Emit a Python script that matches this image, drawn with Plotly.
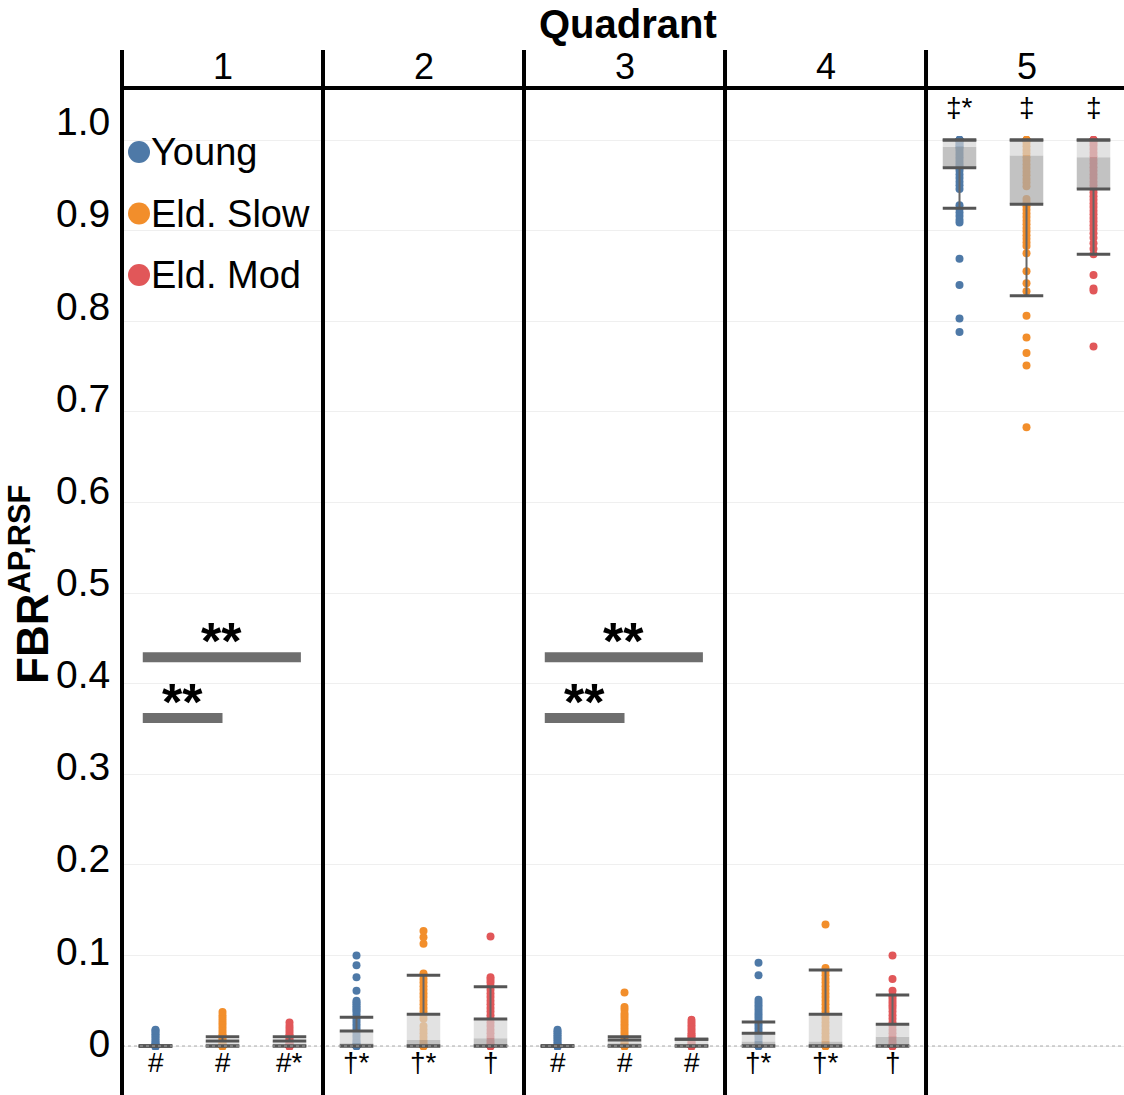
import plotly.graph_objects as go

# ---- data -------------------------------------------------------------
quadrants = ["1", "2", "3", "4", "5"]
groups = ["Young", "Eld. Slow", "Eld. Mod"]
group_colors = ["#4e79a7", "#f28e2b", "#e15759"]

# FBR values per subject, one list per quadrant
points_young = [
    [0] * 18 + [0.002, 0.003, 0.005, 0.007, 0.009, 0.011, 0.013, 0.015, 0.017, 0.018],
    [0] * 8 + [0.002, 0.004, 0.006, 0.009, 0.012, 0.015, 0.018, 0.021, 0.024, 0.027, 0.030,
               0.032, 0.035, 0.038, 0.040, 0.042, 0.044, 0.046, 0.048, 0.050, 0.061, 0.076,
               0.089, 0.100],
    [0] * 18 + [0.002, 0.004, 0.006, 0.008, 0.010, 0.012, 0.014, 0.016, 0.018],
    [0] * 8 + [0.003, 0.006, 0.009, 0.012, 0.015, 0.018, 0.021, 0.024, 0.027, 0.030, 0.033,
               0.036, 0.039, 0.042, 0.045, 0.048, 0.051, 0.078, 0.092],
    [1.0, 1.0, 1.0, 1.0, 1.0, 1.0, 0.998, 0.996, 0.994, 0.992, 0.990, 0.987, 0.984, 0.981,
     0.978, 0.975, 0.972, 0.969, 0.966, 0.962, 0.958, 0.954, 0.950, 0.946, 0.928, 0.924,
     0.920, 0.916, 0.912, 0.909, 0.869, 0.840, 0.803, 0.788],
]
points_slow = [
    [0] * 14 + [0.001, 0.003, 0.005, 0.007, 0.009, 0.011, 0.013, 0.016, 0.019, 0.022, 0.025,
                0.028, 0.031, 0.034, 0.0375],
    [0] * 8 + [0.003, 0.006, 0.010, 0.014, 0.018, 0.022, 0.030, 0.034, 0.038, 0.042, 0.046,
               0.050, 0.054, 0.058, 0.062, 0.066, 0.070, 0.074, 0.078, 0.080, 0.113, 0.120,
               0.127],
    [0] * 12 + [0.002, 0.004, 0.006, 0.009, 0.012, 0.015, 0.018, 0.021, 0.024, 0.027, 0.030,
                0.033, 0.036, 0.040, 0.043, 0.059],
    [0] * 8 + [0.003, 0.006, 0.010, 0.014, 0.018, 0.022, 0.026, 0.030, 0.034, 0.038, 0.042,
               0.046, 0.050, 0.054, 0.058, 0.062, 0.066, 0.070, 0.074, 0.078, 0.082, 0.086,
               0.134],
    [1.0, 1.0, 1.0, 1.0, 0.997, 0.993, 0.989, 0.985, 0.981, 0.977, 0.973, 0.969, 0.965,
     0.961, 0.957, 0.953, 0.949, 0.935, 0.931, 0.927, 0.923, 0.919, 0.915, 0.911, 0.907,
     0.903, 0.899, 0.895, 0.891, 0.887, 0.883, 0.875, 0.855, 0.842, 0.833, 0.806, 0.782,
     0.765, 0.751, 0.683],
]
points_mod = [
    [0] * 14 + [0.001, 0.003, 0.005, 0.007, 0.009, 0.011, 0.013, 0.016, 0.019, 0.022, 0.026],
    [0] * 8 + [0.003, 0.006, 0.010, 0.014, 0.018, 0.022, 0.026, 0.030, 0.034, 0.038, 0.042,
               0.046, 0.050, 0.054, 0.058, 0.062, 0.066, 0.070, 0.073, 0.076, 0.121],
    [0] * 14 + [0.002, 0.004, 0.006, 0.008, 0.010, 0.012, 0.014, 0.017, 0.020, 0.023, 0.026,
                0.029],
    [0] * 8 + [0.003, 0.006, 0.010, 0.014, 0.018, 0.022, 0.026, 0.030, 0.034, 0.038, 0.042,
               0.045, 0.048, 0.051, 0.054, 0.056, 0.061, 0.074, 0.100],
    [1.0, 1.0, 1.0, 1.0, 0.997, 0.994, 0.990, 0.986, 0.982, 0.978, 0.974, 0.970, 0.966,
     0.962, 0.958, 0.954, 0.950, 0.946, 0.942, 0.938, 0.934, 0.930, 0.926, 0.922, 0.918,
     0.914, 0.910, 0.906, 0.902, 0.897, 0.892, 0.886, 0.880, 0.874, 0.851, 0.836, 0.834,
     0.772],
]

# box summaries per quadrant: (lower whisker, Q1, median, Q3, upper whisker)
box_young = [
    (0, 0, 0, 0, 0),
    (0, 0, 0.003, 0.0166, 0.0317),
    (0, 0, 0, 0, 0),
    (0, 0, 0.005, 0.014, 0.0265),
    (0.9246, 0.9695, 0.9926, 1.0, 1.0),
]
box_slow = [
    (0, 0, 0.001, 0.0055, 0.0103),
    (0, 0, 0.0066, 0.035, 0.078),
    (0, 0, 0.003, 0.0066, 0.0103),
    (0, 0, 0.005, 0.035, 0.084),
    (0.828, 0.929, 0.983, 1.0, 1.0),
]
box_mod = [
    (0, 0, 0.001, 0.0055, 0.0103),
    (0, 0, 0.0085, 0.0298, 0.0655),
    (0, 0, 0.002, 0.0074, 0.0074),
    (0, 0, 0.0103, 0.024, 0.0563),
    (0.874, 0.946, 0.981, 1.0, 1.0),
]

# significance markers under / over each group
group_marks = ["#", "#", "#*", "†*", "†*", "†", "#", "#", "#",
               "†*", "†*", "†", "‡*", "‡", "‡"]

# pairwise comparison bars: start, end, height
sig_x0 = [0.31, 0.31, 6.31, 6.31]
sig_x1 = [2.67, 1.50, 8.67, 7.50]
sig_y = [0.429, 0.362, 0.429, 0.362]
sig_label = ["**", "**", "**", "**"]

y_ticks = [0, 0.1, 0.2, 0.3, 0.4, 0.5, 0.6, 0.7, 0.8, 0.9, 1.0]
y_tick_text = ["0", "0.1", "0.2", "0.3", "0.4", "0.5", "0.6", "0.7", "0.8", "0.9", "1.0"]

# ---- figure ---------------------------------------------------------------
FONT = "Liberation Sans, Arial, sans-serif"
W, H = 1124, 1095
PLOT_TOP, PLOT_LEFT = 88, 122
PLOT_H = H - PLOT_TOP
PLOT_W = W - PLOT_LEFT
X_RANGE = [0, 14.955]
Y_RANGE = [-0.05408, 1.0574]
Y_LABEL_RANGE = [-0.05644, 1.03658]
HALF = 0.25
LINE_COL = "#555555"


def px_to_paper_y(py):
    return (H - py) / PLOT_H


def px_to_paper_x(px):
    return (px - PLOT_LEFT) / PLOT_W


fig = go.Figure()

all_points = [points_young, points_slow, points_mod]
all_boxes = [box_young, box_slow, box_mod]

for qi in range(len(quadrants)):
    for gi in range(len(groups)):
        cx = 3 * qi + gi + 0.5
        vals = all_points[gi][qi]
        wlo, q1, med, q3, whi = all_boxes[gi][qi]
        col = group_colors[gi]
        # subject values
        fig.add_trace(go.Scatter(
            x=[cx] * len(vals), y=vals, mode="markers",
            marker=dict(size=8, color=col, line=dict(width=0)),
            showlegend=False, hoverinfo="y"))
        # lower box half (Q1 - median), darker
        fig.add_trace(go.Scatter(
            x=[cx - HALF, cx + HALF, cx + HALF, cx - HALF, cx - HALF],
            y=[q1, q1, med, med, q1], mode="lines", fill="toself",
            fillcolor="rgba(170,170,170,0.72)", line=dict(width=0),
            showlegend=False, hoverinfo="skip"))
        # upper box half (median - Q3), lighter
        fig.add_trace(go.Scatter(
            x=[cx - HALF, cx + HALF, cx + HALF, cx - HALF, cx - HALF],
            y=[med, med, q3, q3, med], mode="lines", fill="toself",
            fillcolor="rgba(212,212,212,0.68)", line=dict(width=0),
            showlegend=False, hoverinfo="skip"))
        # whisker stems
        fig.add_trace(go.Scatter(
            x=[cx, cx, None, cx, cx], y=[q3, whi, None, wlo, q1], mode="lines",
            line=dict(color="#666666", width=2),
            showlegend=False, hoverinfo="skip"))
        # whisker caps and box edges
        xs, ys = [], []
        for v in (wlo, q1, q3, whi):
            xs += [cx - HALF, cx + HALF, None]
            ys += [v, v, None]
        fig.add_trace(go.Scatter(
            x=xs, y=ys, mode="lines", line=dict(color=LINE_COL, width=3),
            showlegend=False, hoverinfo="skip"))

shapes = []
annotations = []

# dotted baseline at zero
shapes.append(dict(type="line", xref="paper", yref="y", x0=0, x1=1, y0=0, y1=0,
                   line=dict(color="#aaaaaa", width=1, dash="dot"), layer="above"))

# comparison bars with their labels
for x0, x1, yv, lab in zip(sig_x0, sig_x1, sig_y, sig_label):
    shapes.append(dict(type="line", xref="x", yref="y", x0=x0, x1=x1, y0=yv, y1=yv,
                       line=dict(color="#6e6e6e", width=10)))
    annotations.append(dict(x=(x0 + x1) / 2, y=yv, xref="x", yref="y",
                            text="<b>" + lab + "</b>", showarrow=False,
                            yanchor="middle", yshift=16,
                            font=dict(family=FONT, size=52, color="black")))

# group significance symbols
for i, mark in enumerate(group_marks):
    cx = i + 0.5
    top = i >= 12
    annotations.append(dict(x=cx, y=1.036 if top else -0.0185, xref="x", yref="y",
                            text=mark, showarrow=False, yanchor="middle",
                            font=dict(family=FONT, size=28, color="black")))

# facet frame: header rule and quadrant separators
span = X_RANGE[1] - X_RANGE[0]
shapes.append(dict(type="line", xref="paper", yref="paper", x0=0, x1=1, y0=1, y1=1,
                   line=dict(color="black", width=4), layer="above"))
for qi in range(len(quadrants)):
    xp = (3 * qi - X_RANGE[0]) / span
    shapes.append(dict(type="line", xref="paper", yref="paper", x0=xp, x1=xp,
                       y0=0, y1=px_to_paper_y(50),
                       line=dict(color="black", width=4), layer="above"))
    annotations.append(dict(x=3 * qi + 1.5, y=px_to_paper_y(67), xref="x", yref="paper",
                            text=quadrants[qi], showarrow=False, yanchor="middle",
                            font=dict(family=FONT, size=36, color="black")))

annotations.append(dict(x=px_to_paper_x(628), y=px_to_paper_y(24), xref="paper",
                        yref="paper", text="<b>Quadrant</b>", showarrow=False,
                        yanchor="middle",
                        font=dict(family=FONT, size=40, color="black")))

annotations.append(dict(x=px_to_paper_x(29), y=px_to_paper_y(585), xref="paper",
                        yref="paper", text="<b>FBR<sup>AP,RSF</sup></b>",
                        showarrow=False, textangle=-90, xanchor="center",
                        yanchor="middle",
                        font=dict(family=FONT, size=44, color="black")))

# legend
for gi, name in enumerate(groups):
    yp = px_to_paper_y(152 + 61.5 * gi)
    xp = px_to_paper_x(139)
    shapes.append(dict(type="circle", xref="paper", yref="paper",
                       xsizemode="pixel", ysizemode="pixel", xanchor=xp, yanchor=yp,
                       x0=-11, x1=11, y0=-11, y1=11,
                       fillcolor=group_colors[gi], line=dict(width=0), layer="above"))
    annotations.append(dict(x=px_to_paper_x(149), y=yp, xref="paper", yref="paper",
                            text=name, showarrow=False, xanchor="left",
                            yanchor="middle",
                            font=dict(family=FONT, size=38, color="black")))

fig.update_layout(
    width=W, height=H,
    margin=dict(l=PLOT_LEFT, r=0, t=PLOT_TOP, b=0, autoexpand=False),
    paper_bgcolor="white", plot_bgcolor="white",
    font=dict(family=FONT, color="black"),
    showlegend=False,
    xaxis=dict(range=X_RANGE, showgrid=False, zeroline=False, showticklabels=False,
               showline=False, ticks="", fixedrange=True),
    yaxis=dict(range=Y_RANGE, tickvals=y_ticks, showticklabels=False, showgrid=True,
               gridcolor="#efefef", gridwidth=1, zeroline=False, showline=False,
               ticks="", fixedrange=True),
    yaxis2=dict(range=Y_LABEL_RANGE, overlaying="y", side="left", anchor="x",
                tickvals=y_ticks, ticktext=y_tick_text, showgrid=False, zeroline=False,
                showline=False, ticks="outside", ticklen=3,
                tickcolor="rgba(0,0,0,0)",
                tickfont=dict(family=FONT, size=39, color="black"), fixedrange=True),
    shapes=shapes,
    annotations=annotations,
)

# empty trace bound to the label axis so it is rendered
fig.add_trace(go.Scatter(x=[None], y=[None], yaxis="y2", showlegend=False,
                         hoverinfo="skip"))

fig.write_html("out.html")
